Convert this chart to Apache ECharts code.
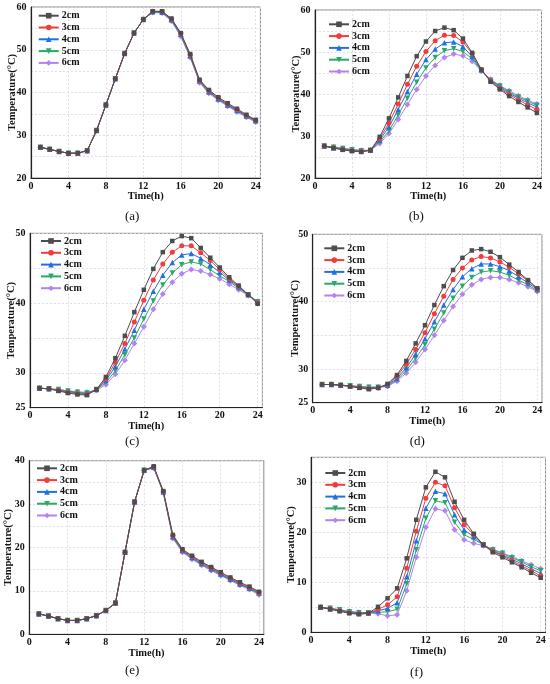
<!DOCTYPE html>
<html><head><meta charset="utf-8">
<script src="https://cdn.jsdelivr.net/npm/echarts@6/dist/echarts.min.js"></script>
<style>html,body{margin:0;padding:0;background:#fff}#c{width:550px;height:684px}</style>
</head><body><div id="c"></div>
<script>
const hours = [1,2,3,4,5,6,7,8,9,10,11,12,13,14,15,16,17,18,19,20,21,22,23,24];
const depths = ['2cm','3cm','4cm','5cm','6cm'];
const panelLabels = ['(a)','(b)','(c)','(d)','(e)','(f)'];
const xTicks = [0,4,8,12,16,20,24];

// Panel (a)
const a2 = [27.2,26.7,26.2,25.8,25.8,26.4,31.1,37.1,43.2,49.1,53.9,57.1,59.0,59.0,57.3,53.9,49.0,43.0,40.6,38.9,37.5,36.2,34.8,33.6];
const a3 = [27.2,26.7,26.2,25.8,25.8,26.4,31.1,37.1,43.2,49.1,53.9,57.1,59.0,58.9,57.2,53.8,48.8,42.8,40.4,38.7,37.3,36.0,34.6,33.5];
const a4 = [27.2,26.7,26.2,25.8,25.8,26.4,31.1,37.1,43.2,49.1,53.9,57.1,58.9,58.8,57.0,53.6,48.6,42.7,40.2,38.5,37.1,35.8,34.5,33.4];
const a5 = [27.2,26.7,26.2,25.8,25.8,26.4,31.1,37.1,43.2,49.1,53.9,57.1,58.8,58.7,56.9,53.4,48.4,42.5,40.0,38.4,37.0,35.7,34.4,33.2];
const a6 = [27.2,26.7,26.2,25.8,25.8,26.4,31.1,37.1,43.2,49.1,53.9,57.1,58.7,58.6,56.7,53.1,48.2,42.3,39.8,38.2,36.8,35.5,34.2,33.1];
// Panel (b)
const b2 = [27.6,27.1,26.7,26.4,26.2,26.6,29.8,34.2,39.2,44.3,49.0,52.5,55.0,55.8,55.2,53.2,49.8,45.8,42.9,41.1,39.5,38.1,36.8,35.5];
const b3 = [27.6,27.2,26.8,26.5,26.3,26.6,29.4,33.1,37.6,42.3,46.6,50.1,52.7,54.0,53.9,52.4,49.6,45.8,43.1,41.3,39.9,38.6,37.4,36.3];
const b4 = [27.6,27.2,26.9,26.6,26.4,26.6,29.0,32.2,36.3,40.6,44.7,48.2,50.7,52.2,52.4,51.3,48.9,45.7,43.2,41.6,40.2,39.0,37.9,36.9];
const b5 = [27.6,27.3,27.0,26.7,26.5,26.6,28.6,31.2,35.0,39.0,42.8,46.2,48.7,50.3,50.8,50.1,48.4,45.5,43.3,41.9,40.5,39.3,38.3,37.3];
const b6 = [27.6,27.4,27.1,26.8,26.6,26.6,28.2,30.6,33.9,37.5,41.1,44.3,46.8,48.7,49.5,49.1,47.8,45.5,43.5,42.0,40.8,39.6,38.6,37.6];
// Panel (c)
const c2 = [27.8,27.7,27.4,27.1,26.9,26.8,27.6,29.4,32.1,35.3,38.7,41.9,44.9,47.3,48.9,49.6,49.3,47.9,46.5,45.1,43.7,42.5,41.2,39.9];
const c3 = [27.8,27.7,27.5,27.2,27.0,26.9,27.6,29.1,31.5,34.2,37.3,40.4,43.3,45.6,47.3,48.2,48.2,47.2,46.1,44.8,43.5,42.4,41.2,40.0];
const c4 = [27.8,27.7,27.5,27.3,27.1,27.0,27.6,28.9,30.9,33.4,36.1,39.1,41.7,44.0,45.8,46.9,47.1,46.4,45.5,44.4,43.3,42.3,41.2,40.1];
const c5 = [27.8,27.7,27.6,27.4,27.2,27.1,27.6,28.6,30.3,32.6,35.0,37.7,40.3,42.6,44.3,45.5,45.9,45.6,44.8,43.9,43.1,42.1,41.2,40.2];
const c6 = [27.8,27.7,27.6,27.4,27.3,27.2,27.5,28.3,29.8,31.8,34.2,36.6,39.1,41.3,43.0,44.2,44.8,44.6,44.1,43.5,42.7,41.9,41.1,40.2];
// Panel (d)
const d2 = [27.7,27.7,27.6,27.4,27.2,27.0,27.2,27.8,29.1,31.2,33.8,36.5,39.5,42.3,44.7,46.5,47.6,47.8,47.4,46.6,45.5,44.4,43.2,42.0];
const d3 = [27.7,27.7,27.6,27.4,27.3,27.1,27.2,27.7,28.9,30.7,32.9,35.4,38.2,40.8,43.3,45.0,46.2,46.7,46.5,45.9,45.1,44.1,43.1,41.9];
const d4 = [27.7,27.7,27.6,27.5,27.3,27.2,27.3,27.6,28.6,30.2,32.2,34.5,37.0,39.5,41.8,43.7,44.9,45.6,45.6,45.2,44.6,43.7,42.8,41.8];
const d5 = [27.7,27.7,27.6,27.5,27.4,27.3,27.3,27.5,28.4,29.8,31.6,33.6,35.9,38.3,40.5,42.3,43.6,44.4,44.6,44.4,43.9,43.2,42.5,41.6];
const d6 = [27.7,27.7,27.6,27.5,27.4,27.3,27.3,27.4,28.2,29.4,31.0,32.9,35.0,37.2,39.3,41.1,42.5,43.3,43.6,43.6,43.3,42.8,42.2,41.5];
// Panel (e)
const e2 = [4.7,4.2,3.6,3.2,3.2,3.6,4.3,5.5,7.2,18.9,30.5,37.8,38.7,33.0,22.9,19.6,18.1,16.7,15.5,14.3,13.1,12.0,11.0,9.8];
const e3 = [4.7,4.2,3.6,3.2,3.2,3.6,4.3,5.5,7.2,18.9,30.5,37.8,38.6,32.9,22.7,19.4,17.9,16.5,15.3,14.1,12.9,11.8,10.8,9.6];
const e4 = [4.7,4.2,3.6,3.2,3.2,3.6,4.3,5.5,7.2,18.9,30.5,37.8,38.5,32.8,22.5,19.3,17.7,16.3,15.1,13.9,12.7,11.6,10.6,9.5];
const e5 = [4.7,4.2,3.6,3.2,3.2,3.6,4.3,5.5,7.2,18.9,30.5,37.8,38.4,32.7,22.3,19.1,17.5,16.1,14.9,13.7,12.6,11.5,10.5,9.3];
const e6 = [4.7,4.2,3.6,3.2,3.2,3.6,4.3,5.5,7.2,18.9,30.5,37.8,38.3,32.6,22.1,18.9,17.3,15.9,14.7,13.5,12.4,11.3,10.3,9.1];
// Panel (f)
const f2 = [5.0,4.6,4.2,3.8,3.6,3.8,5.1,6.8,8.8,14.8,22.5,29.0,32.1,31.0,26.1,22.5,19.7,17.5,16.0,15.0,14.0,13.0,11.9,10.9];
const f3 = [5.0,4.7,4.3,3.9,3.7,3.8,4.6,5.5,7.1,12.8,20.2,26.8,30.0,29.3,24.9,21.5,19.5,17.6,16.2,15.3,14.3,13.3,12.3,11.3];
const f4 = [5.0,4.7,4.4,4.0,3.8,3.9,4.3,4.8,5.9,11.1,18.3,24.8,28.2,27.7,23.5,20.5,19.1,17.5,16.3,15.5,14.6,13.7,12.7,11.8];
const f5 = [5.0,4.8,4.5,4.1,3.9,3.9,4.0,4.1,4.6,9.7,16.5,22.8,26.3,25.9,22.0,19.5,18.6,17.5,16.5,15.8,14.9,14.1,13.1,12.3];
const f6 = [5.0,4.8,4.5,4.2,4.0,3.9,3.7,3.3,3.5,8.3,15.0,21.0,24.7,24.3,20.5,18.5,17.8,17.3,16.6,15.9,15.1,14.3,13.5,12.7];

const yMin = [20,20,25,25,0,0];
const yMax = [60,60,50,50,40,35];
const yLabelValues = [[20,30,40,50,60],[20,30,40,50,60],[25,30,40,50],[25,30,40,50],[0,10,20,30,40],[0,10,20,30]];

const panels = [[a2,a3,a4,a5,a6],[b2,b3,b4,b5,b6],[c2,c3,c4,c5,c6],[d2,d3,d4,d5,d6],[e2,e3,e4,e5,e6],[f2,f3,f4,f5,f6]];

// layout (styles/positions)
const grids = [
  {left:31, top:7, width:229.4, height:171},
  {left:315, top:10, width:226.5, height:168},
  {left:30, top:233.3, width:232.4, height:174.4},
  {left:312.7, top:234.3, width:229.3, height:168.4},
  {left:29.3, top:460.7, width:234.5, height:173.6},
  {left:311, top:457.3, width:234.5, height:175}
];
const legendPos = [[37.7,10.7],[328,19.3],[40,236],[323.3,243.3],[36,463.3],[324.3,468]];
const captionPos = [[133,218.3],[416.7,218.3],[133,442.7],[417.7,443],[133,672],[418,674]];
const yNameGap = [13,13.5,13.5,12.2,16,14.5];
const colors = ['#4d4d4d','#f23c3c','#1f6fe5','#2aa866','#b383ee'];
const symbols = ['rect','circle','triangle','triangle','diamond'];
const symRot = [0,0,0,180,0];
const symSize = [4.5,5,5.5,5.5,6];
const FONT = 'Liberation Serif';

const option = {
  animation:false,
  backgroundColor:'#fff',
  grid: grids.map(g=>Object.assign({show:true, borderColor:'#8a8a8a', borderWidth:1, containLabel:false}, g)),
  xAxis: grids.map((g,i)=>({
    type:'value', gridIndex:i, min:0, max:24.5, interval:4,
    name:'Time(h)', nameLocation:'middle', nameGap:13, nameMoveOverlap:false,
    nameTextStyle:{fontFamily:FONT, fontWeight:'bold', fontSize:10.5, color:'#111'},
    axisLine:{show:true, onZero:false, lineStyle:{color:'#222', width:1.2}},
    axisTick:{show:false},
    axisLabel:{fontFamily:FONT, fontWeight:'bold', fontSize:10, color:'#111', margin:3,
      formatter:v=> xTicks.indexOf(v)>=0 ? String(v) : ''},
    splitLine:{show:true, lineStyle:{color:'#d6d6ee', type:[2,2], width:0.8}}
  })),
  yAxis: grids.map((g,i)=>({
    type:'value', gridIndex:i, min:yMin[i], max:yMax[i], interval:5,
    name:'Temperature(\u00b0C)', nameLocation:'middle', nameGap:yNameGap[i], nameMoveOverlap:false,
    nameTextStyle:{fontFamily:FONT, fontWeight:'bold', fontSize:10.5, color:'#111'},
    axisLine:{show:true, onZero:false, lineStyle:{color:'#222', width:1.2}},
    axisTick:{show:false},
    axisLabel:{fontFamily:FONT, fontWeight:'bold', fontSize:10, color:'#111', margin:4.5,
      formatter:v=> yLabelValues[i].indexOf(v)>=0 ? String(v) : ''},
    splitLine:{show:true, lineStyle:{color:'#d6d6ee', type:[2,2], width:0.8}}
  })),
  legend: legendPos.map(p=>({
    data:depths, orient:'vertical', left:p[0], top:p[1], itemWidth:20, itemHeight:7, itemGap:1.8,
    padding:0, selectedMode:false,
    textStyle:{fontFamily:FONT, fontWeight:'bold', fontSize:10, color:'#111', padding:[0,0,0,-2]}
  })),
  graphic: captionPos.map((p,i)=>({
    type:'text', left:p[0]-8, top:p[1]-8,
    style:{text:panelLabels[i], font:'13px "Liberation Serif"', fill:'#111'}
  })),
  series: []
};

panels.forEach((arrs,i)=>{
  arrs.forEach((arr,k)=>{
    option.series.push({
      type:'line', name:depths[k], xAxisIndex:i, yAxisIndex:i,
      data: hours.map((h,j)=>[h, arr[j]]),
      symbol:symbols[k], symbolRotate:symRot[k], symbolSize:symSize[k],
      showSymbol:true,
      lineStyle:{color:colors[k], width:1},
      itemStyle:{color:colors[k]},
      z: 10-k
    });
  });
});

const chart = echarts.init(document.getElementById('c'), null, {renderer:'canvas'});
chart.setOption(option);
</script>
</body></html>
